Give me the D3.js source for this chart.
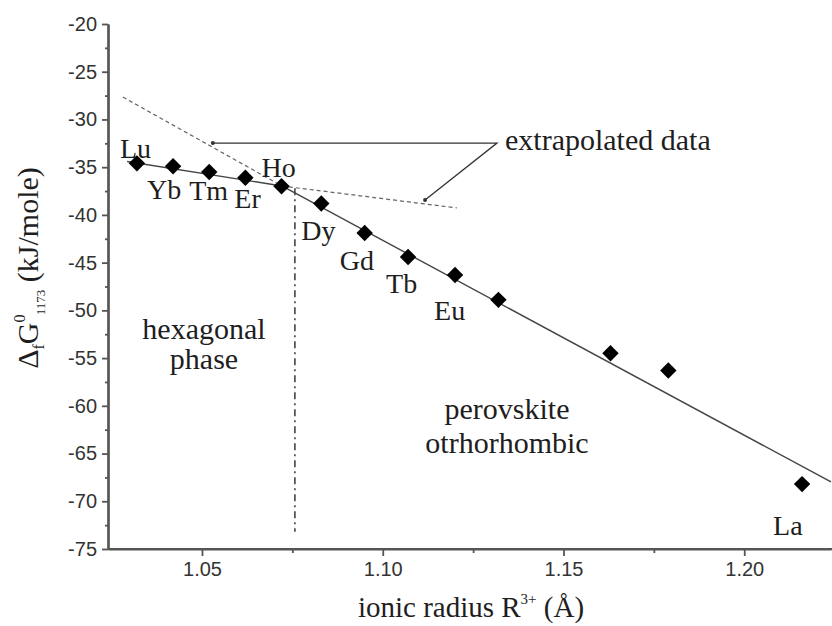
<!DOCTYPE html>
<html>
<head>
<meta charset="utf-8">
<script src="https://cdn.jsdelivr.net/npm/d3@7"></script>
<style>
  body { margin: 0; background: #fff; }
  svg { display: block; }
  .serif { font-family: "Liberation Serif", "DejaVu Serif", serif; fill: #1e1e1e; }
  .tick text { font-family: "Liberation Sans", Arial, sans-serif; font-size: 20px; fill: #333; }
</style>
</head>
<body>
<div id="chart"></div>
<script>
// ionic radius (A) and free energy of formation at 1173 K (kJ/mole)
const elements = ["Lu", "Yb", "Tm", "Er", "Ho", "Dy", "Gd", "Tb", "Eu", "Sm", "Nd", "Pr", "La"];
const radius = [1.032, 1.042, 1.052, 1.062, 1.072, 1.083, 1.095, 1.107, 1.120, 1.132, 1.163, 1.179, 1.216];
const dG = [-34.6, -34.9, -35.5, -36.1, -37.0, -38.8, -41.9, -44.4, -46.3, -48.9, -54.5, -56.3, -68.2];
const shownLabels = ["Lu", "Yb", "Tm", "Er", "Ho", "Dy", "Gd", "Tb", "Eu", "La"];

// fitted lines and their extrapolations [radius, dG]
const hexFit = [[1.0293, -34.4], [1.0721, -36.97]];
const hexExtrap = [[1.0721, -36.97], [1.1205, -39.27]];
const perovFit = [[1.0721, -36.97], [1.224, -67.98]];
const perovExtrap = [[1.0281, -27.65], [1.0721, -36.97]];
const phaseBoundary = [[1.0757, -37.2], [1.0757, -73.2]];
const pointer = [[1.0530, -32.47], [1.1316, -32.47], [1.1117, -38.44]];

const yTickValues = [-20, -25, -30, -35, -40, -45, -50, -55, -60, -65, -70, -75];
const yMinorValues = [-22.5, -27.5, -32.5, -37.5, -42.5, -47.5, -52.5, -57.5, -62.5, -67.5, -72.5];
const xTickValues = [1.05, 1.10, 1.15, 1.20];
const xMinorValues = [1.075, 1.125, 1.175];

const width = 832, height = 626;
const m = { left: 108, right: 831, top: 24, bottom: 549 };

const x = d3.scaleLinear().domain([1.024, 1.224]).range([m.left, m.right]);
const y = d3.scaleLinear().domain([-20, -75]).range([m.top, m.bottom]);

const svg = d3.select("#chart").append("svg")
  .attr("width", width)
  .attr("height", height);

const line = d3.line().x(d => x(d[0])).y(d => y(d[1]));

// axes
const axisColor = "#555";
svg.append("g").attr("transform", "translate(" + m.left + ",0)")
  .call(d3.axisLeft(y).tickValues(yTickValues).tickSize(6).tickSizeOuter(0).tickPadding(5)
    .tickFormat(d => String(d)));
svg.append("g").attr("transform", "translate(" + m.left + ",0)")
  .call(d3.axisLeft(y).tickValues(yMinorValues).tickSize(3).tickSizeOuter(0).tickFormat(""));

const xAxis = svg.append("g").attr("transform", "translate(0," + m.bottom + ")")
  .call(d3.axisBottom(x).tickValues(xTickValues).tickSize(7).tickSizeOuter(0).tickPadding(6)
    .tickFormat(d3.format(".2f")));
svg.append("g").attr("transform", "translate(0," + m.bottom + ")")
  .call(d3.axisBottom(x).tickValues(xMinorValues).tickSize(4).tickSizeOuter(0).tickFormat(""));

svg.selectAll(".domain").attr("stroke", axisColor).attr("stroke-width", 2.2);
svg.selectAll(".tick line").attr("stroke", axisColor).attr("stroke-width", 1.8);
// stretch x axis line to the right edge
xAxis.select(".domain").attr("d", "M" + m.left + ",0H" + width);

// fitted lines
svg.append("path").datum(hexFit).attr("d", line)
  .attr("fill", "none").attr("stroke", "#444").attr("stroke-width", 1.4);
svg.append("path").datum(perovFit).attr("d", line)
  .attr("fill", "none").attr("stroke", "#444").attr("stroke-width", 1.4);
svg.append("path").datum(hexExtrap).attr("d", line)
  .attr("fill", "none").attr("stroke", "#666").attr("stroke-width", 1.2).attr("stroke-dasharray", "4,3");
svg.append("path").datum(perovExtrap).attr("d", line)
  .attr("fill", "none").attr("stroke", "#666").attr("stroke-width", 1.2).attr("stroke-dasharray", "4,3");
svg.append("path").datum(phaseBoundary).attr("d", line)
  .attr("fill", "none").attr("stroke", "#444").attr("stroke-width", 1.6).attr("stroke-dasharray", "7,4,2,4");

// pointer to extrapolated data
svg.append("path").datum(pointer).attr("d", line)
  .attr("fill", "none").attr("stroke", "#333").attr("stroke-width", 1.3);
svg.selectAll(".pdot").data([pointer[0], pointer[2]]).enter().append("circle")
  .attr("cx", d => x(d[0])).attr("cy", d => y(d[1])).attr("r", 2).attr("fill", "#333");

// data points
const points = elements.map((e, i) => ({ name: e, r: radius[i], g: dG[i] }));
svg.selectAll(".pt").data(points).enter().append("path")
  .attr("d", d3.symbol().type(d3.symbolSquare).size(135))
  .attr("transform", d => "translate(" + x(d.r) + "," + y(d.g) + ") rotate(45)")
  .attr("fill", "#000");

// element labels, offsets in pixels from each point
const labelOffset = {
  Lu: [-17, -5], Yb: [-26, 33], Tm: [-20, 28], Er: [-11, 30], Ho: [-20, -9],
  Dy: [-20, 37], Gd: [-25, 37], Tb: [-22, 36], Eu: [-21, 45], La: [-29, 51]
};
svg.selectAll(".lbl").data(points.filter(d => shownLabels.includes(d.name))).enter().append("text")
  .attr("class", "serif")
  .attr("x", d => x(d.r) + labelOffset[d.name][0])
  .attr("y", d => y(d.g) + labelOffset[d.name][1])
  .attr("font-size", 28)
  .text(d => d.name);

// annotations
function note(lines, cx, cy, gap) {
  lines.forEach((t, i) => {
    svg.append("text").attr("class", "serif")
      .attr("x", cx).attr("y", cy + i * gap)
      .attr("text-anchor", "middle").attr("font-size", 30)
      .text(t);
  });
}
note(["hexagonal", "phase"], 204, 339, 30);
note(["perovskite", "otrhorhombic"], 507, 419, 34);
svg.append("text").attr("class", "serif")
  .attr("x", 505).attr("y", 150).attr("font-size", 30)
  .text("extrapolated data");

// axis titles
const xt = svg.append("text").attr("class", "serif")
  .attr("x", 471).attr("y", 617).attr("text-anchor", "middle").attr("font-size", 29);
xt.append("tspan").text("ionic radius R");
xt.append("tspan").attr("font-size", 15).attr("dy", -13).text("3+");
xt.append("tspan").attr("dy", 13).text(" (\u00c5)");

const yt = svg.append("text").attr("class", "serif")
  .attr("transform", "translate(38,268) rotate(-90)")
  .attr("text-anchor", "middle").attr("font-size", 30);
yt.append("tspan").text("\u0394");
yt.append("tspan").attr("font-size", 16).attr("dy", 6).text("f");
yt.append("tspan").attr("dy", -6).text("G");
yt.append("tspan").attr("font-size", 16).attr("dy", -13).text("0");
yt.append("tspan").attr("font-size", 13).attr("dy", 20).attr("dx", -4).text(" 1173");
yt.append("tspan").attr("dy", -7).text(" (kJ/mole)");
</script>
</body>
</html>
